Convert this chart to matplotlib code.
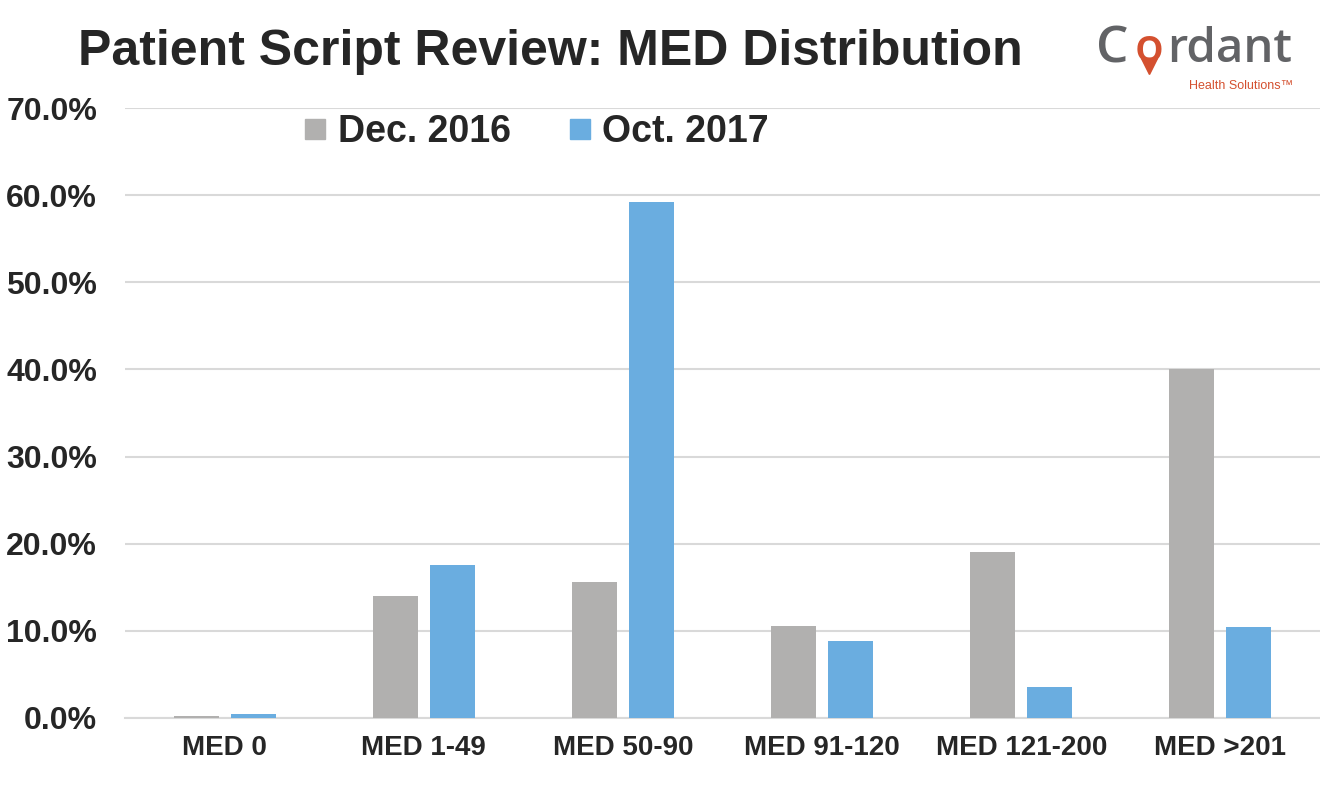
import numpy as np
import matplotlib
matplotlib.use("Agg")
from matplotlib import pyplot as plt
from matplotlib.lines import Line2D

plt.rcParams['font.family'] = ['Liberation Sans', 'DejaVu Sans']

categories = ["MED 0", "MED 1-49", "MED 50-90", "MED 91-120", "MED 121-200", "MED >201"]
dec_2016 = [0.2, 14.0, 15.6, 10.5, 19.1, 40.0]
oct_2017 = [0.4, 17.5, 59.2, 8.8, 3.5, 10.4]
series_names = ["Dec. 2016", "Oct. 2017"]
yticks = [0, 10, 20, 30, 40, 50, 60, 70]

grey = "#b1b0af"
blue = "#6aade0"
textc = "#262626"
logo_grey = "#626366"
logo_orange = "#d4502f"

fig = plt.figure(figsize=(13.2, 7.93), dpi=100)
ax = fig.add_axes([0.0947, 0.0946, 0.9053, 0.7692])

x = np.arange(len(categories))
w = 0.226
ax.bar(x - 0.143, dec_2016, w, color=grey, zorder=3)
ax.bar(x + 0.143, oct_2017, w, color=blue, zorder=3)

ax.set_xlim(-0.5, len(categories) - 0.5)
ax.set_ylim(0, 70)
ax.set_yticks(yticks)
ax.set_yticklabels(["%.1f%%" % v for v in yticks], fontsize=23, fontweight='bold', color=textc)
ax.set_xticks(x)
ax.set_xticklabels(categories, fontsize=20, fontweight='bold', color=textc)
ax.tick_params(axis='both', length=0)
ax.tick_params(axis='y', pad=20)
ax.tick_params(axis='x', pad=12)
ax.grid(axis='y', color='#d9d9d9', linewidth=1.5, zorder=0)
for s in ['top', 'right', 'left']:
    ax.spines[s].set_visible(False)
ax.spines['bottom'].set_color('#d9d9d9')
ax.spines['bottom'].set_linewidth(1.5)

handles = [Line2D([], [], marker='s', linestyle='none', markersize=14, color=c) for c in (grey, blue)]
leg = ax.legend(handles, series_names, loc='center left', bbox_to_anchor=(0.2145, 0.833),
                bbox_transform=fig.transFigure, ncol=2, frameon=False, handletextpad=0.25,
                columnspacing=1.5, handlelength=0.7, borderpad=0,
                prop={'size': 27, 'weight': 'bold'})
for t in leg.get_texts():
    t.set_color(textc)

fig.text(0.059, 0.934, "Patient Script Review: MED Distribution", fontsize=36,
         fontweight='bold', color=textc, va='center', ha='left')

# logo, pieces placed by hand
logo_font = dict(family='Open Sans', fontweight='semibold', va='baseline')
fig.text(0.8305, 0.9218, "C", color=logo_grey, ha='left', fontsize=37, **logo_font)
fig.text(0.8705, 0.9218, "o", color=logo_orange, ha='center', fontsize=34, **logo_font)
fig.text(0.8845, 0.9218, "rdant", color=logo_grey, ha='left', fontsize=34, **logo_font)
pin = Line2D([0.8705], [0.9165], marker='v', markersize=11, color=logo_orange,
             linestyle='none', transform=fig.transFigure)
fig.add_artist(pin)
fig.text(0.9795, 0.8915, "Health Solutions\u2122", fontsize=9, color=logo_orange, va='center', ha='right')

fig.savefig("out.png", dpi=100)
